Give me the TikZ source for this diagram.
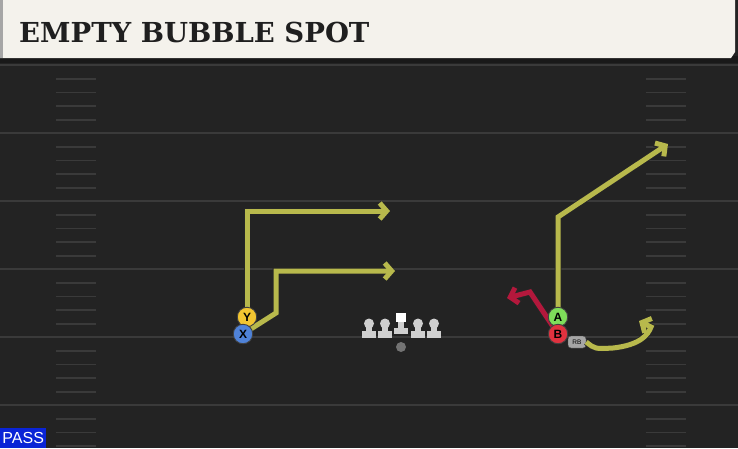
\documentclass[tikz,border=0pt]{standalone}
\usepackage{fontspec}
\setsansfont{Liberation Sans}
\newfontfamily\titlefont{DejaVu Serif}
\usetikzlibrary{arrows.meta}
\definecolor{field}{HTML}{232323}
\definecolor{yardline}{HTML}{3A3A3A}
\definecolor{header}{HTML}{F4F2EC}
\definecolor{routeol}{HTML}{B8B94C}
\definecolor{routered}{HTML}{B3183C}
\definecolor{yplayer}{HTML}{F2C531}
\definecolor{xplayer}{HTML}{4F82D8}
\definecolor{aplayer}{HTML}{7EDD5A}
\definecolor{bplayer}{HTML}{E0323F}
\definecolor{lineman}{HTML}{CFCFCF}
\definecolor{passblue}{HTML}{0A24D6}
\tikzset{
  player/.style={circle, draw=black!75, line width=0.9pt, minimum size=19.5pt,
    inner sep=0pt, font=\sffamily\bfseries\fontsize{12}{12}\selectfont},
  route/.style={draw=routeol, line width=5pt, line join=miter,
    -{Straight Barb[length=7pt,width=16pt]},
    preaction={draw=black!85, line width=6.6pt}},
  redroute/.style={route, draw=routered},
  hash/.style={draw=yardline, line width=1.4pt}
}
\begin{document}
\begin{tikzpicture}[x=1pt,y=-1pt]
  \useasboundingbox (0,0) rectangle (738,448);
  \fill[field] (0,0) rectangle (738,448);
  % yard lines and hashes
  \foreach \yy in {65,133,201,269,337,405} {
    \draw[yardline, line width=1.8pt] (0,\yy) -- (738,\yy);
    \foreach \dy in {14,27.5,41,55} {
      \draw[hash] (56,\yy+\dy) -- (96,\yy+\dy);
      \draw[hash] (646,\yy+\dy) -- (686,\yy+\dy);
    }
  }
  % header
  \fill[black!90] (0,56) rectangle (738,63);
  \fill[header] (0,0) -- (735,0) -- (735,52) -- (731,58) -- (0,58) -- cycle;
  \fill[black!35] (0,0) rectangle (3,58);
  \node[anchor=west, font=\titlefont\bfseries\fontsize{27.5}{27.5}\selectfont,
    text=black!88, inner sep=0pt] (title) at (19,32) {EMPTY BUBBLE SPOT};

  % offensive line
  \foreach \lx in {369,385,418,434} {
    \fill[lineman] (\lx,323.5) circle (5);
    \fill[lineman] (\lx-3,324) rectangle (\lx+3,333);
    \fill[lineman] (\lx-7,331) rectangle (\lx+7,338);
  }
  \fill[white] (396,312.5) rectangle (406,322);
  \fill[lineman] (398,322) rectangle (404,330);
  \fill[lineman] (394,328) rectangle (408,334);
  \node[circle, fill=black!55, inner sep=0pt, minimum size=10pt] (ball) at (401,347) {};

  \node[fill=black!35, draw=black!70, rounded corners=3pt, inner sep=1pt,
    minimum width=18pt, minimum height=12pt,
    font=\sffamily\fontsize{6.5}{6.5}\selectfont] (RB) at (577,342) {RB};

  \coordinate (Ypos) at (247,317);
  \coordinate (Xpos) at (243,334);
  \coordinate (Apos) at (558,317);
  \coordinate (Bpos) at (558,334);
  \coordinate (ycorner) at (247,211);
  \coordinate (yend) at (390,211);
  \coordinate (xbend) at (276,313);
  \coordinate (xcorner) at (276,271);
  \coordinate (xend) at (395,271);
  \coordinate (acorner) at (558,217);
  \coordinate (aend) at (668,144);
  \coordinate (bcorner) at (530,292);
  \coordinate (bend) at (507,298);
  \coordinate (rbmid) at (613,348);
  \coordinate (rbtop) at (651,327);
  \coordinate (rbend) at (639,321);

  \draw[route] (Ypos) -- (ycorner) -- (yend);
  \draw[route] (Xpos) -- (xbend) -- (xcorner) -- (xend);
  \draw[route] (Apos) -- (acorner) -- (aend);
  \draw[redroute] (Bpos) -- (bcorner) -- (bend);
  \draw[route] (RB.east) .. controls (595,349) .. (rbmid)
    .. controls (640,345) and (648,335) .. (rbtop) -- (rbend);

  \node[player, fill=yplayer] (Y) at (Ypos) {Y};
  \node[player, fill=xplayer] (X) at (Xpos) {X};
  \node[player, fill=aplayer] (A) at (Apos) {A};
  \node[player, fill=bplayer] (B) at (Bpos) {B};

  \node[fill=passblue, text=white, anchor=south west, inner sep=2pt,
    minimum width=46pt, minimum height=20pt,
    font=\sffamily\fontsize{16}{16}\selectfont] (pass) at (0,448) {PASS};
\end{tikzpicture}
\end{document}
